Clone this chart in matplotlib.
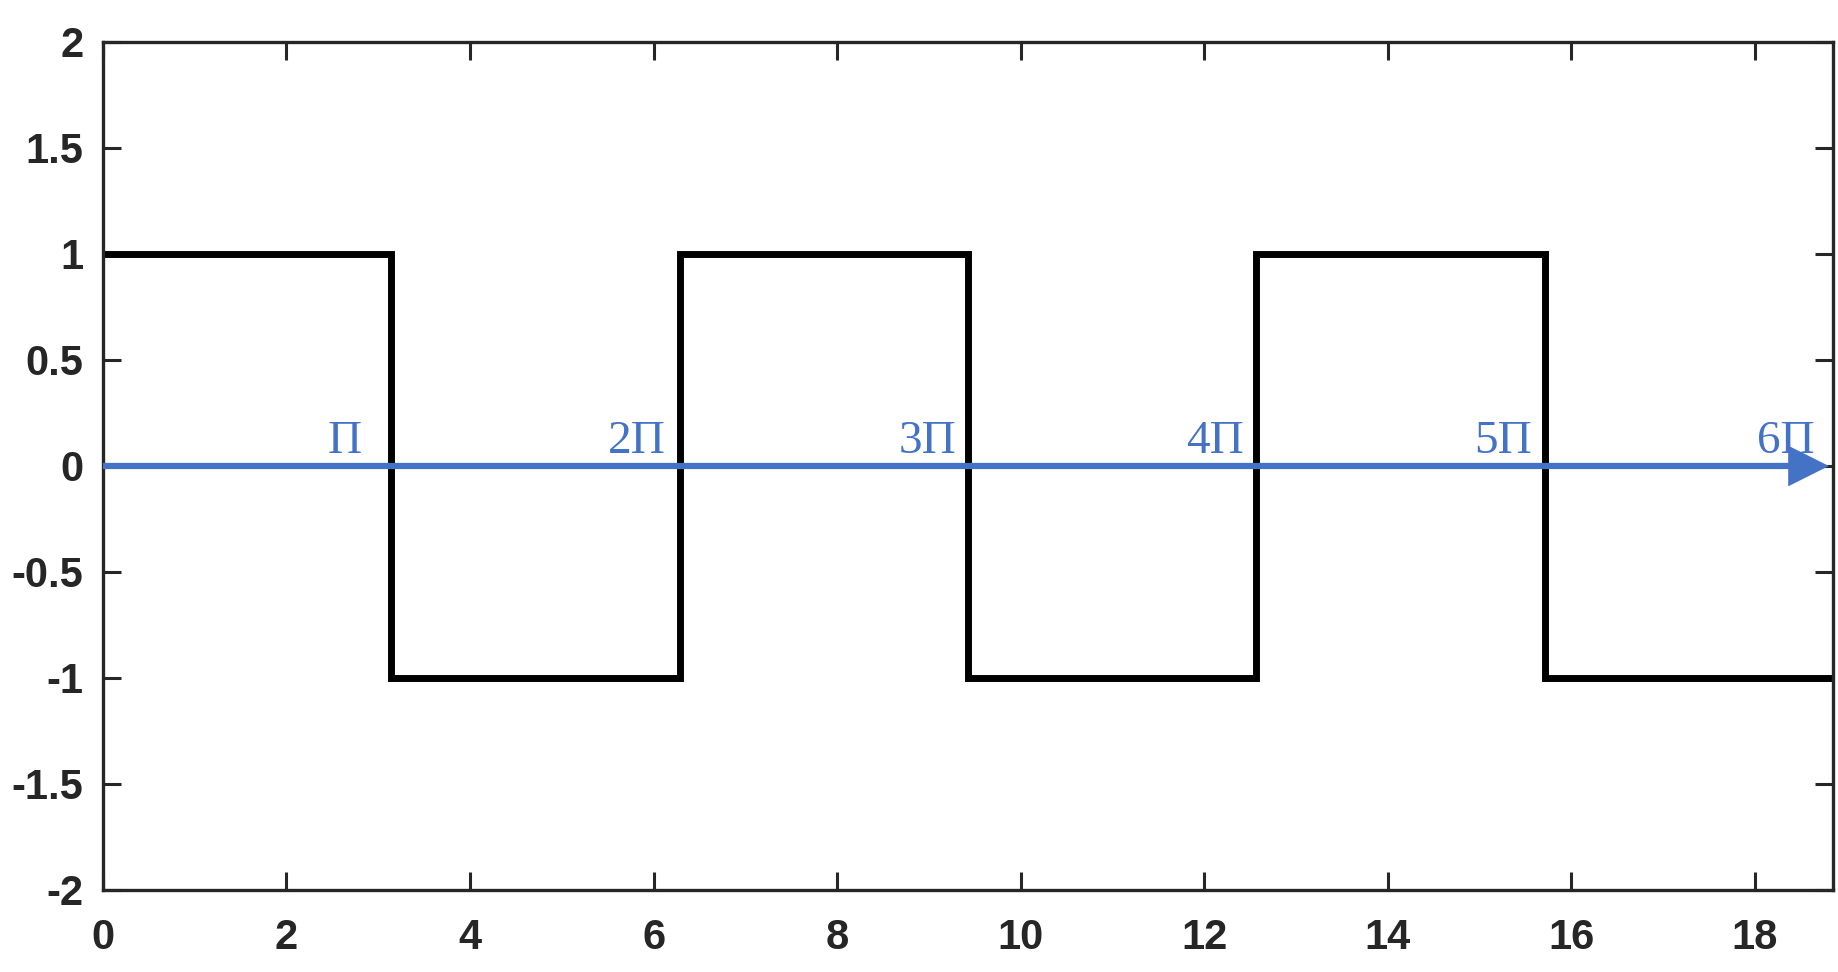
import numpy as np
import matplotlib
matplotlib.use("Agg")
import matplotlib.pyplot as plt

# 方波数据：每个区间 [kπ, (k+1)π] 上的取值
edges = [0, np.pi, 2 * np.pi, 3 * np.pi, 4 * np.pi, 5 * np.pi, 6 * np.pi]
levels = [1, -1, 1, -1, 1, -1]

# 横轴箭头上的标注（文字左端的 x 位置）
pi_labels = ["Π", "2Π", "3Π", "4Π", "5Π", "6Π"]
pi_label_x = [2.45, 5.50, 8.67, 11.80, 14.94, 18.02]
pi_label_y = 0.06

xticks = [0, 2, 4, 6, 8, 10, 12, 14, 16, 18]
yticks = [-2, -1.5, -1, -0.5, 0, 0.5, 1, 1.5, 2]
ytick_labels = ["-2", "-1.5", "-1", "-0.5", "0", "0.5", "1", "1.5", "2"]

blue = "#4472C4"
axis_color = "#262626"

plt.rcParams["font.family"] = ["Liberation Sans", "DejaVu Sans"]

fig = plt.figure(figsize=(18.38, 9.72), dpi=100)
ax = fig.add_axes([0.056, 0.0844, 0.9413, 0.8724])

# 方波
ax.stairs(levels, edges, baseline=None, color="black", linewidth=5, zorder=2)

# 蓝色横轴箭头
ax.annotate("", xy=(edges[-1], 0), xytext=(edges[0], 0),
            arrowprops=dict(arrowstyle="-|>,head_length=1.1,head_width=0.55",
                            mutation_scale=20, color=blue, lw=4.5,
                            joinstyle="miter", capstyle="butt",
                            shrinkA=0, shrinkB=3),
            zorder=3)

for lab, lx in zip(pi_labels, pi_label_x):
    ax.text(lx, pi_label_y, lab, color=blue, fontsize=34,
            family=["Liberation Serif", "DejaVu Serif"],
            ha="left", va="baseline", zorder=4)

ax.set_xlim(0, 6 * np.pi)
ax.set_ylim(-2, 2)
ax.set_xticks(xticks)
ax.set_yticks(yticks)
ax.set_yticklabels(ytick_labels)

for sp in ax.spines.values():
    sp.set_linewidth(2.4)
    sp.set_color(axis_color)

ax.tick_params(axis="both", direction="in", length=13, width=2.2,
               colors=axis_color, labelsize=30, top=True, right=True)
ax.tick_params(axis="x", pad=20)
ax.tick_params(axis="y", pad=14)
for lbl in ax.get_xticklabels() + ax.get_yticklabels():
    lbl.set_fontweight("bold")

fig.savefig("out.png", dpi=100)
